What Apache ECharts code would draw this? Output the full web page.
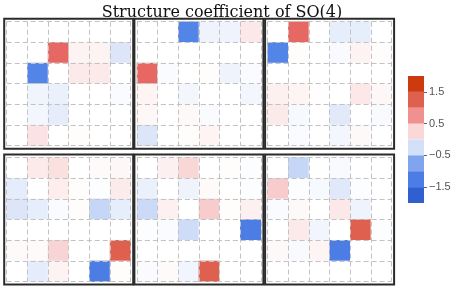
<!DOCTYPE html>
<html><head><meta charset="utf-8">
<script src="https://cdn.jsdelivr.net/npm/echarts@6/dist/echarts.min.js"></script>
<style>html,body{margin:0;padding:0;background:#fff}#c{width:460px;height:287px}</style>
</head><body><div id="c"></div>
<script>
var titleText = 'Structure coefficient of SO(4)';
var rowCats = ['1','2','3','4','5','6'];
var colCats = ['1','2','3','4','5','6'];

var panel1 = [
 [0,0,0,0,0,0],
 [0,0,1.1,0.08,0.08,-0.2],
 [0,-1.1,0,0.14,0.14,0],
 [0,-0.09,-0.12,0,0,-0.03],
 [0,-0.07,-0.15,0,0,0],
 [0,0.18,0,0.02,0,0]
];
var panel2 = [
 [0,0,-1.1,-0.1,-0.1,0.15],
 [0,0,0,0,0,0],
 [1.1,-0.03,0,0.02,-0.1,-0.03],
 [0.07,0,-0.07,0,0,-0.07],
 [0.05,0,0.04,-0.03,0,0],
 [-0.2,0,0.02,0.07,0,0]
];
var panel3 = [
 [0,1.1,0,-0.14,-0.14,0],
 [-1.1,0.02,0,-0.04,0.08,0.02],
 [0,0,0,0,0,0],
 [0.1,0.07,0.01,0,0.15,0.05],
 [0.14,-0.05,0,-0.17,0,-0.04],
 [0,-0.03,0,-0.07,0.04,0]
];
var panel4 = [
 [0,0.14,0.2,0,0.03,0.05],
 [-0.15,0,0.12,0.02,-0.02,0.13],
 [-0.2,-0.14,-0.03,0.02,-0.33,-0.14],
 [0,0,0,0,0,0],
 [0.03,0.03,0.28,0,0,1.25],
 [0,-0.15,0.08,0,-1.25,0.02]
];
var panel5 = [
 [0,0.1,0.26,0,0.02,-0.02],
 [-0.12,0,-0.1,0.03,0,-0.02],
 [-0.3,0.1,0,0.33,0.02,0.1],
 [-0.02,-0.03,-0.28,0,0,-1.25],
 [0,0,0,0,0,0],
 [-0.03,0.03,-0.08,1.25,0,0]
];
var panel6 = [
 [0,-0.33,0,-0.04,0,0],
 [0.33,-0.02,-0.05,-0.18,-0.02,0],
 [-0.03,0.04,0,0.15,-0.1,0],
 [0,0.14,-0.08,0,1.25,-0.02],
 [0.04,-0.04,0.07,-1.25,0,0],
 [0,0,0,0,0,0]
];
var panels = [panel1, panel2, panel3, panel4, panel5, panel6];

var cbSteps = [0.5, 0.5, 0.5, 0.5, -0.5, -0.5, -0.5, -0.5];
var cbColors = ['#fad8d8','#f09090','#e06050','#cc3a10','#d4e0f8','#80a5ee','#4c7de4','#305fd0'];
var cbTicks = [-1.5, -0.5, 0.5, 1.5];
var mapColors = ['#1f4dc3','#4171dd','#5789eb','#a9c1f1','#ffffff','#f5b2b2','#eb6e6e','#d55232','#c32200'];

var colLefts = [6.7, 136.9, 267.6];
var rowTops = [21.7, 157.6];
var cellW = 124, cellH = 124;

var grids = [], xAxes = [], yAxes = [], series = [], graphics = [];
var dash = {show:true, interval:0, lineStyle:{color:'#c2c2c2', type:[5,3], width:1}};
for (var p = 0; p < 6; p++) {
  var L = colLefts[p % 3], T = rowTops[Math.floor(p / 3)];
  grids.push({left: L, top: T, width: cellW, height: cellH});
  xAxes.push({type:'category', gridIndex:p, data:colCats, z:5, axisLine:{show:false}, axisTick:{show:false}, axisLabel:{show:false}, splitLine:dash});
  yAxes.push({type:'category', gridIndex:p, data:rowCats, z:5, inverse:true, axisLine:{show:false}, axisTick:{show:false}, axisLabel:{show:false}, splitLine:dash});
  var d = [];
  panels[p].forEach(function(row, r){ row.forEach(function(v, c){ d.push([c, r, v]); }); });
  series.push({type:'heatmap', xAxisIndex:p, yAxisIndex:p, data:d, silent:true, z:1});
  graphics.push({type:'rect', shape:{x:L-2.5, y:T-3, width:cellW+5, height:cellH+6}, style:{fill:null, stroke:'#2b2b2b', lineWidth:2}, z:100});
}
// colorbar
grids.push({left:408, top:76, width:16, height:127});
xAxes.push({type:'category', gridIndex:6, data:['c'], show:false});
yAxes.push({type:'value', gridIndex:6, min:-2, max:2, position:'right',
  axisLine:{show:false}, splitLine:{show:false},
  axisTick:{show:true, length:3, customValues:cbTicks, lineStyle:{color:'#666'}},
  axisLabel:{show:true, customValues:cbTicks, margin:5, color:'#555', fontSize:11, fontFamily:'Liberation Sans',
    formatter:function(v){ return v < 0 ? '\u2212' + Math.abs(v) : String(v); }}});
cbSteps.forEach(function(s, i){
  series.push({type:'bar', xAxisIndex:6, yAxisIndex:6, stack:'cb', barWidth:'100%', silent:true,
    data:[s], itemStyle:{color:cbColors[i]}});
});

var chart = echarts.init(document.getElementById('c'), null, {renderer:'canvas'});
chart.setOption({
  animation:false,
  title:{text:titleText, left:217, top:0, textAlign:'center',
    textStyle:{fontFamily:'DejaVu Serif', fontWeight:'normal', fontSize:16, color:'#111'}},
  grid:grids, xAxis:xAxes, yAxis:yAxes,
  visualMap:{type:'continuous', show:false, min:-2, max:2, seriesIndex:[0,1,2,3,4,5], inRange:{color:mapColors}},
  graphic:graphics,
  series:series
});
</script></body></html>
